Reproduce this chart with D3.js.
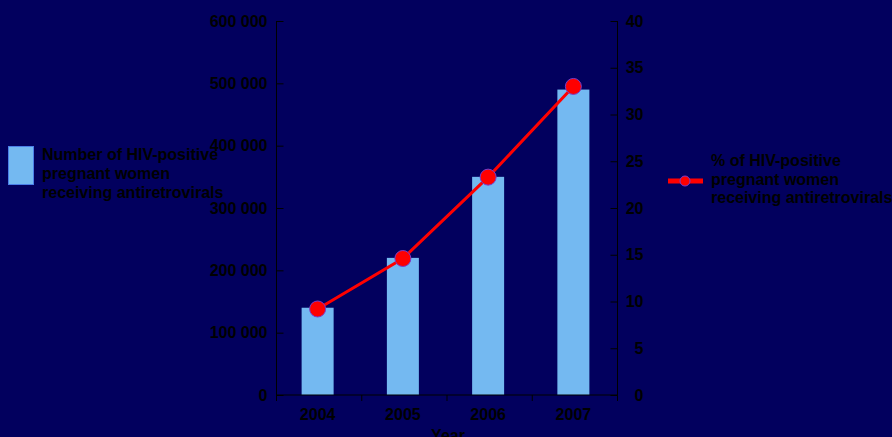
<!DOCTYPE html>
<html>
<head>
<meta charset="utf-8">
<script src="https://cdn.jsdelivr.net/npm/d3@7"></script>
<style>
  html, body { margin: 0; padding: 0; background: #02005e; }
  svg { display: block; font-family: Arial, "Liberation Sans", sans-serif; font-weight: bold; }
  .axis text { fill: #000; font-size: 16px; font-weight: bold; }
  .axis line, .axis path { stroke: #000; }
</style>
</head>
<body>
<div id="chart"></div>
<script>
// chart data
var years = ['2004', '2005', '2006', '2007'];
var womenOnArv = [140000, 220000, 350000, 490000];
var pctOnArv = [9.2, 14.6, 23.3, 33.0];
var leftTicks = [0, 100000, 200000, 300000, 400000, 500000, 600000];
var rightTicks = [0, 5, 10, 15, 20, 25, 30, 35, 40];
var barLegend = ['Number of HIV-positive', 'pregnant women', 'receiving antiretrovirals'];
var lineLegend = ['% of HIV-positive', 'pregnant women', 'receiving antiretrovirals'];

var width = 892, height = 437;
var plotLeft = 276.5, plotRight = 617.5, plotTop = 21, plotBottom = 395;
var barW = 32;

var svg = d3.select('#chart').append('svg')
    .attr('width', width)
    .attr('height', height);

svg.append('rect').attr('width', width).attr('height', height).attr('fill', '#02005e');

// scales
var x = d3.scaleBand().domain(years).range([plotLeft, plotRight]);
var yLeft = d3.scaleLinear().domain([0, 600000]).range([plotBottom, plotTop]);
var yRight = d3.scaleLinear().domain([0, 40]).range([plotBottom, plotTop]);

function cx(d) { return x(d) + x.bandwidth() / 2 - 1.5; }

// space as thousands separator
var fmt = d3.formatLocale({ decimal: '.', thousands: ' ', grouping: [3], currency: ['', ''] }).format(',');

// bars
svg.selectAll('.bar').data(years).enter()
    .append('rect')
    .attr('class', 'bar')
    .attr('x', function(d) { return cx(d) - barW / 2; })
    .attr('width', barW)
    .attr('y', function(d, i) { return yLeft(womenOnArv[i]); })
    .attr('height', function(d, i) { return plotBottom - yLeft(womenOnArv[i]); })
    .attr('fill', '#74b9f1');

// left axis
var leftAxis = svg.append('g').attr('class', 'axis')
    .attr('transform', 'translate(' + plotLeft + ',0)')
    .call(d3.axisLeft(yLeft).tickValues(leftTicks).tickFormat(fmt).tickSizeInner(-7).tickSizeOuter(0).tickPadding(9));
leftAxis.select('.domain').remove();
leftAxis.append('line').attr('y1', plotTop).attr('y2', plotBottom + 5).attr('stroke', '#000');

// right axis
var rightAxis = svg.append('g').attr('class', 'axis')
    .attr('transform', 'translate(' + plotRight + ',0)')
    .call(d3.axisRight(yRight).tickValues(rightTicks).tickSizeInner(-7).tickSizeOuter(0));
rightAxis.select('.domain').remove();
rightAxis.selectAll('text').attr('text-anchor', 'end').attr('x', 26);
rightAxis.append('line').attr('y1', plotTop).attr('y2', plotBottom + 5).attr('stroke', '#000');

// x axis: ticks sit on band edges
var xAxis = svg.append('g').attr('class', 'axis');
xAxis.append('line')
    .attr('x1', plotLeft).attr('x2', plotRight)
    .attr('y1', plotBottom).attr('y2', plotBottom);
xAxis.selectAll('.edge').data(years.concat(['end'])).enter()
    .append('line')
    .attr('x1', function(d) { return d === 'end' ? plotRight : x(d); })
    .attr('x2', function(d) { return d === 'end' ? plotRight : x(d); })
    .attr('y1', plotBottom).attr('y2', plotBottom + 6);
xAxis.selectAll('.lbl').data(years).enter()
    .append('text')
    .attr('x', cx)
    .attr('y', 420)
    .attr('text-anchor', 'middle')
    .text(function(d) { return d; });
xAxis.append('text')
    .attr('x', 448).attr('y', 441)
    .attr('text-anchor', 'middle')
    .text('Year');

// line + markers
var line = d3.line()
    .x(function(d) { return cx(d); })
    .y(function(d, i) { return yRight(pctOnArv[i]); });
svg.append('path').datum(years)
    .attr('d', line)
    .attr('fill', 'none')
    .attr('stroke', '#ff0000')
    .attr('stroke-width', 3);
svg.selectAll('.dot').data(years).enter()
    .append('circle')
    .attr('cx', cx)
    .attr('cy', function(d, i) { return yRight(pctOnArv[i]); })
    .attr('r', 8)
    .attr('fill', '#ff0000')
    .attr('stroke', '#7a3cc8')
    .attr('stroke-width', 1);

// bar legend
svg.append('rect')
    .attr('x', 8.5).attr('y', 146.5).attr('width', 25).attr('height', 38)
    .attr('fill', '#74b9f1').attr('stroke', '#4a7fe8').attr('stroke-width', 1);
svg.append('text')
    .attr('x', 42).attr('y', 159.5)
    .attr('font-size', 16).attr('fill', '#000')
    .selectAll('tspan').data(barLegend).enter()
    .append('tspan')
    .attr('x', 42)
    .attr('dy', function(d, i) { return i === 0 ? 0 : 19; })
    .text(function(d) { return d; });

// line legend
svg.append('line')
    .attr('x1', 668).attr('x2', 703).attr('y1', 181).attr('y2', 181)
    .attr('stroke', '#ff0000').attr('stroke-width', 5);
svg.append('circle')
    .attr('cx', 685).attr('cy', 181).attr('r', 5)
    .attr('fill', '#ff0000').attr('stroke', '#7a3cc8').attr('stroke-width', 1);
svg.append('text')
    .attr('x', 711).attr('y', 166)
    .attr('font-size', 16).attr('fill', '#000')
    .selectAll('tspan').data(lineLegend).enter()
    .append('tspan')
    .attr('x', 711)
    .attr('dy', function(d, i) { return i === 0 ? 0 : 18.5; })
    .text(function(d) { return d; });
</script>
</body>
</html>
